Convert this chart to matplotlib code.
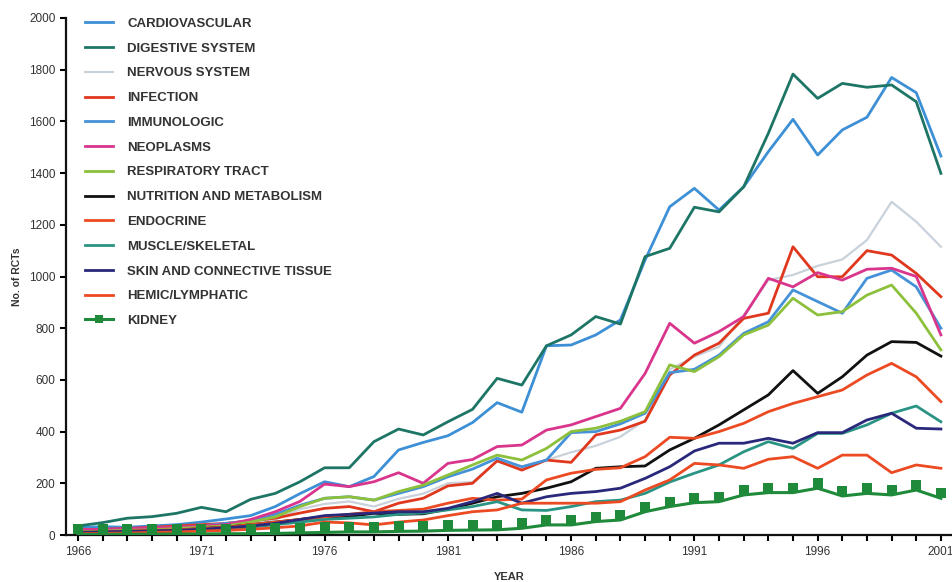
import matplotlib
matplotlib.use("Agg")
import matplotlib.pyplot as plt
from matplotlib.path import Path
from matplotlib.lines import Line2D
from matplotlib.ticker import MultipleLocator
import numpy as np

plt.rcParams['font.family'] = ['Liberation Sans', 'DejaVu Sans']

# Data
years = list(range(1966, 2002))

cardiovascular = [30, 32, 30, 35, 40, 50, 62, 75, 110, 160,
                  206, 187, 226, 329, 358, 384, 435, 512, 475, 732,
                  735, 774, 832, 1064, 1270, 1341, 1257, 1347, 1483, 1608,
                  1470, 1567, 1616, 1770, 1711, 1466]
digestive = [35, 48, 65, 71, 84, 107, 90, 138, 161, 206,
             260, 260, 361, 410, 387, 438, 486, 606, 580, 732,
             774, 845, 816, 1077, 1109, 1268, 1250, 1347, 1554, 1783,
             1689, 1747, 1732, 1741, 1676, 1399]
nervous = [10, 12, 15, 18, 20, 25, 30, 40, 60, 100,
           120, 130, 110, 140, 160, 200, 205, 285, 255, 290,
           320, 345, 380, 445, 640, 690, 728, 851, 986, 1006,
           1041, 1066, 1141, 1289, 1212, 1115]
infection = [20, 22, 25, 30, 35, 40, 45, 55, 65, 85,
             103, 110, 90, 123, 142, 190, 200, 287, 251, 290,
             281, 387, 406, 440, 619, 696, 742, 838, 858, 1115,
             999, 999, 1100, 1083, 1012, 922]
immunologic = [15, 18, 20, 25, 28, 35, 45, 55, 80, 115,
               142, 148, 135, 161, 187, 225, 255, 297, 264, 290,
               396, 400, 430, 471, 628, 641, 696, 780, 825, 948,
               903, 858, 993, 1025, 960, 800]
neoplasms = [20, 22, 25, 28, 30, 35, 40, 60, 90, 130,
             197, 187, 206, 241, 200, 277, 292, 342, 348, 406,
             426, 458, 490, 625, 819, 742, 787, 845, 993, 960,
             1015, 986, 1028, 1032, 1000, 774]
respiratory = [12, 15, 18, 20, 25, 30, 35, 50, 70, 110,
               142, 148, 135, 168, 193, 232, 271, 309, 290, 335,
               400, 413, 440, 477, 658, 632, 690, 774, 812, 916,
               851, 864, 928, 967, 858, 716]
nutrition = [8, 10, 12, 15, 18, 25, 30, 40, 50, 60,
             71, 72, 84, 80, 82, 100, 123, 148, 161, 181,
             206, 258, 264, 267, 329, 374, 426, 484, 542, 636,
             548, 612, 696, 748, 745, 692]
endocrine = [10, 12, 15, 18, 20, 25, 30, 40, 50, 60,
             70, 80, 90, 95, 100, 123, 142, 135, 139, 213,
             239, 254, 260, 303, 378, 374, 400, 432, 477, 509,
             535, 561, 619, 664, 612, 516]
muscle = [8, 10, 12, 14, 16, 20, 25, 30, 40, 50,
          60, 65, 70, 80, 85, 97, 110, 129, 97, 95,
          110, 129, 135, 161, 205, 239, 271, 322, 361, 335,
          393, 393, 426, 471, 499, 438]
skin = [10, 12, 14, 16, 18, 22, 28, 35, 45, 60,
        75, 80, 85, 90, 90, 103, 129, 161, 123, 148,
        161, 168, 181, 219, 264, 325, 355, 355, 374, 355,
        396, 396, 445, 471, 413, 410]
hemic = [5, 6, 8, 10, 12, 15, 18, 22, 28, 35,
         50, 47, 39, 50, 58, 75, 90, 97, 123, 123,
         123, 123, 129, 174, 213, 277, 271, 258, 293, 303,
         258, 309, 309, 241, 271, 258]
kidney = [2, 2, 3, 3, 4, 4, 5, 5, 6, 8,
          10, 12, 12, 14, 15, 18, 19, 20, 26, 39,
          39, 52, 58, 90, 110, 125, 129, 155, 164, 164,
          181, 151, 161, 155, 174, 142]

labels = ["CARDIOVASCULAR", "DIGESTIVE SYSTEM", "NERVOUS SYSTEM", "INFECTION",
          "IMMUNOLOGIC", "NEOPLASMS", "RESPIRATORY TRACT",
          "NUTRITION AND METABOLISM", "ENDOCRINE", "MUSCLE/SKELETAL",
          "SKIN AND CONNECTIVE TISSUE", "HEMIC/LYMPHATIC", "KIDNEY"]
series = [cardiovascular, digestive, nervous, infection, immunologic, neoplasms,
          respiratory, nutrition, endocrine, muscle, skin, hemic, kidney]
colors = ["#3d8fd6", "#1d7566", "#c9d2da", "#e0381f", "#4592d8", "#d9358c",
          "#8dc03c", "#111111", "#ec4a22", "#2a9484", "#29287a", "#ec4a22",
          "#1f8a3a"]

fig = plt.figure(figsize=(9.52, 5.82), dpi=100)
ax = fig.add_axes([66 / 952, 1 - 535 / 582, 1 - 66 / 952, (535 - 18) / 582])

# square marker sitting on top of the line
sq = Path([(-1, 0), (1, 0), (1, 2), (-1, 2), (-1, 0)],
          [Path.MOVETO, Path.LINETO, Path.LINETO, Path.LINETO, Path.CLOSEPOLY])

handles = []
for lab, vals, col in zip(labels, series, colors):
    if lab == "KIDNEY":
        ax.plot(years, vals, color=col, lw=2.2, marker=sq, markersize=15,
                markeredgewidth=0, zorder=5)
        handles.append(Line2D([], [], color=col, lw=2.2, marker='s',
                              markersize=6, markeredgewidth=0))
    elif lab == "NERVOUS SYSTEM":
        h, = ax.plot(years, vals, color=col, lw=1.6, zorder=2)
        handles.append(h)
    else:
        h, = ax.plot(years, vals, color=col, lw=2.0, zorder=3)
        handles.append(h)

ax.set_xlim(1965.51, 2001.45)
ax.set_ylim(0, 2000)
ax.set_xticks(range(1966, 2002, 5))
ax.xaxis.set_minor_locator(MultipleLocator(1))
ax.yaxis.set_major_locator(MultipleLocator(200))

for s in ["top", "right"]:
    ax.spines[s].set_visible(False)
for s in ["left", "bottom"]:
    ax.spines[s].set_linewidth(1.6)
    ax.spines[s].set_color("#111111")

ax.tick_params(axis="both", which="major", direction="out", length=4, width=1.5,
               labelsize=8.5, labelcolor="#333333")
ax.tick_params(axis="x", which="minor", direction="out", length=4, width=1.5)
ax.tick_params(axis="x", pad=4)

ax.set_xlabel("YEAR", fontsize=8, fontweight="bold", color="#333333", labelpad=10)
ax.set_ylabel("No. of RCTs", fontsize=7.5, fontweight="bold", color="#333333", labelpad=5)

leg = ax.legend(handles, labels, loc="upper left", bbox_to_anchor=(0.0155, 1.011),
                frameon=False, fontsize=9.5, handlelength=2.1, handletextpad=1.1,
                labelspacing=0.95, borderaxespad=0)
for t in leg.get_texts():
    t.set_fontweight("bold")
    t.set_color("#333333")

fig.savefig("out.png", dpi=100)
